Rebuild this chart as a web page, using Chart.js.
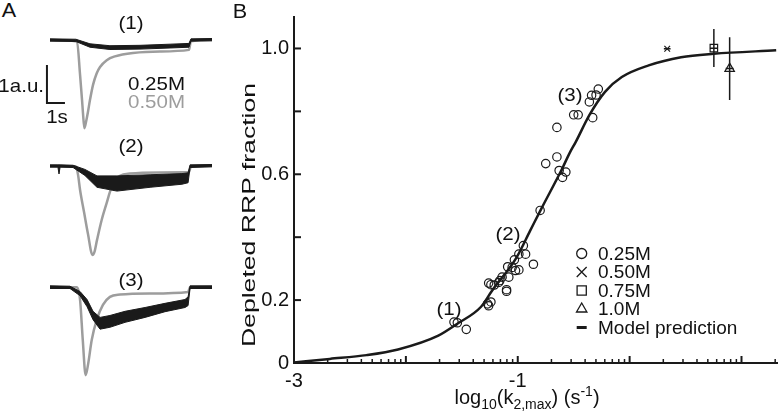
<!DOCTYPE html>
<html>
<head>
<meta charset="utf-8">
<script src="https://cdn.jsdelivr.net/npm/chart.js@4.4.0/dist/chart.umd.min.js"></script>
<style>
html, body { margin: 0; padding: 0; background: #fff; }
#fig { position: relative; width: 784px; height: 414px; overflow: hidden; font-family: 'Liberation Sans', Arial, sans-serif; color: #111; }
#fig canvas { position: absolute; }
.t { position: absolute; white-space: nowrap; line-height: 1; font-size: 19px; transform: translate(-50%, -50%) scaleX(1.08); }
.t.l { transform-origin: left center; transform: translate(0, -50%) scaleX(1.08); }
.t.r { transform-origin: right center; transform: translate(-100%, -50%) scaleX(1.08); }
sub, sup { font-size: 70%; line-height: 0; }
</style>
</head>
<body>
<div id="fig">
  <canvas id="trace1" width="180" height="115" style="left:40px;top:25px"></canvas>
  <canvas id="trace2" width="180" height="115" style="left:40px;top:150px"></canvas>
  <canvas id="trace3" width="180" height="115" style="left:40px;top:270px"></canvas>
  <canvas id="rrp" width="554" height="414" style="left:230px;top:0px"></canvas>

  <div class="t" style="left:9px;top:10px;font-size:20px">A</div>
  <div class="t" style="left:131px;top:22px">(1)</div>
  <div class="t" style="left:131px;top:145px">(2)</div>
  <div class="t" style="left:131px;top:279px">(3)</div>
  <div class="t r" style="left:44px;top:85px">1a.u.</div>
  <div class="t" style="left:57px;top:116px">1s</div>
  <div class="t l" style="left:128px;top:83px">0.25M</div>
  <div class="t l" style="left:128px;top:101px;color:#9d9d9d">0.50M</div>

  <div class="t" style="left:240px;top:11px;font-size:20px">B</div>
  <div class="t" style="left:248px;top:215px;transform:translate(-50%,-50%) rotate(-90deg) scaleX(1.4)">Depleted RRP fraction</div>
  <div class="t" style="left:527px;top:397px;font-size:20px;transform:translate(-50%,-50%)">log<sub>10</sub>(k<sub>2,max</sub>) (s<sup>-1</sup>)</div>
  <div class="t" style="left:449px;top:308px">(1)</div>
  <div class="t" style="left:508px;top:233px">(2)</div>
  <div class="t" style="left:570px;top:94px">(3)</div>
</div>

<script>
const GRAY = '#9d9d9d';
const INK = '#1a1a1a';
const FONT = "'Liberation Sans', Arial, sans-serif";

// Panel A: time in s, signal in a.u. (0 = baseline)
const gray1T = [0, 1.50, 1.67, 1.78, 1.83, 1.91, 2.00, 2.11, 2.22, 2.39, 2.59, 2.78, 3.15, 3.61, 4.61, 6.11, 7.72, 7.83, 9.00];
const gray1V = [0, -0.04, -0.92, -1.58, -1.91, -2.32, -2.16, -1.89, -1.58, -1.18, -0.88, -0.71, -0.53, -0.43, -0.34, -0.30, -0.26, -0.03, 0];
const black1T = [0, 1.44, 2.22, 3.33, 5.00, 6.67, 7.72, 7.83, 9.00];
const black1Hi = [0.03, 0.02, -0.10, -0.15, -0.14, -0.11, -0.09, 0.03, 0.04];
const black1Lo = [-0.03, -0.04, -0.19, -0.25, -0.24, -0.21, -0.19, -0.03, -0.02];

const gray2T = [0, 1.44, 1.56, 1.67, 1.89, 2.11, 2.36, 2.47, 2.61, 2.87, 3.15, 3.33, 3.56, 3.89, 4.44, 6.11, 7.72, 7.83, 9.00];
const gray2V = [0, -0.01, -0.24, -0.63, -1.21, -1.79, -2.34, -2.26, -1.95, -1.42, -0.97, -0.68, -0.42, -0.26, -0.20, -0.17, -0.16, -0.01, 0];
const black2T = [0, 0.44, 0.50, 0.56, 1.28, 1.94, 2.61, 3.72, 5.56, 7.33, 7.67, 7.78, 9.00];
const black2Hi = [0.03, 0.03, 0.03, 0.03, 0.02, -0.09, -0.26, -0.26, -0.23, -0.20, -0.18, 0.03, 0.04];
const black2Lo = [-0.03, -0.03, -0.21, -0.03, -0.04, -0.25, -0.56, -0.66, -0.56, -0.48, -0.44, -0.04, -0.02];

const gray3T = [0, 1.50, 1.67, 1.82, 1.98, 2.11, 2.32, 2.59, 2.94, 3.33, 3.89, 5.56, 7.67, 7.78, 9.00];
const gray3V = [0, -0.01, -0.34, -1.39, -2.32, -2.05, -1.39, -0.87, -0.47, -0.26, -0.20, -0.17, -0.13, -0.01, 0];
const black3T = [0, 1.11, 1.67, 2.06, 2.39, 2.78, 3.33, 4.17, 5.28, 6.39, 7.50, 7.67, 7.78, 9.00];
const black3Hi = [0.03, 0.02, -0.12, -0.33, -0.64, -0.80, -0.75, -0.64, -0.54, -0.43, -0.33, -0.26, 0.03, 0.03];
const black3Lo = [-0.04, -0.04, -0.23, -0.52, -0.86, -1.11, -1.06, -0.93, -0.80, -0.65, -0.54, -0.49, -0.04, -0.04];

// 1 s by 1 a.u. scale bar
const scaleBarT = [-0.17, -0.17, 0.83];
const scaleBarV = [-0.66, -1.66, -1.66];

// Panel B: x is log10(k2,max), y is depleted RRP fraction
const circleLogK = [-1.57, -1.54, -1.46, -1.27, -1.26, -1.24, -1.26, -1.24, -1.21, -1.17, -1.16, -1.14, -1.10, -1.10, -1.08, -1.09, -1.05, -1.02, -0.99, -1.03, -0.99, -0.93, -0.95, -0.86, -0.80, -0.75, -0.65, -0.63, -0.57, -0.60, -0.65, -0.50, -0.46, -0.33, -0.36, -0.34, -0.30, -0.28];
const circleFrac = [0.130, 0.128, 0.107, 0.188, 0.182, 0.194, 0.254, 0.249, 0.248, 0.256, 0.262, 0.273, 0.233, 0.228, 0.273, 0.306, 0.304, 0.294, 0.296, 0.328, 0.346, 0.346, 0.373, 0.314, 0.485, 0.634, 0.655, 0.612, 0.607, 0.590, 0.749, 0.789, 0.789, 0.780, 0.830, 0.851, 0.852, 0.871];

const crossLogK = [0.336];
const crossFrac = [0.999];
const squareLogK = [0.753];
const squareFrac = [1.001];
const squareLow = [0.941];
const squareHigh = [1.062];
const triangleLogK = [0.894];
const triangleFrac = [0.936];
const triangleLow = [0.836];
const triangleHigh = [1.036];

const modelLogK = [-3.0, -2.68, -2.35, -2.07, -1.71, -1.54, -1.33, -1.23, -1.01, -0.89, -0.79, -0.60, -0.54, -0.48, -0.36, -0.22, -0.07, 0.17, 0.46, 0.75, 1.31];
const modelFrac = [0.002, 0.013, 0.025, 0.043, 0.087, 0.125, 0.178, 0.230, 0.336, 0.420, 0.490, 0.620, 0.665, 0.704, 0.788, 0.862, 0.909, 0.946, 0.972, 0.983, 0.994];

const xTickValues = [-3, -1, 1];
const xTickLabels = ['-3', '-1', '1'];
const yTickValues = [0, 0.2, 0.6, 1.0];
const yTickLabels = ['0', '0.2', '0.6', '1.0'];
const yInwardTicks = [0.2, 0.4, 0.6, 0.8, 1.0];

const legendLabels = ['0.25M', '0.50M', '0.75M', '1.0M', 'Model prediction'];
const legendStyles = ['circle', 'cross', 'rect', 'triangle', 'dash'];

Chart.defaults.font.family = FONT;
Chart.defaults.color = '#111';

const pts = (xs, ys) => xs.map((x, i) => ({ x, y: ys[i] }));

document.addEventListener('DOMContentLoaded', () => {
    initTrace('trace1', [-2.632, 0.395], black1T, black1Hi, black1Lo, gray1T, gray1V, true);
    initTrace('trace2', [-2.605, 0.421], black2T, black2Hi, black2Lo, gray2T, gray2V, false);
    initTrace('trace3', [-2.579, 0.447], black3T, black3Hi, black3Lo, gray3T, gray3V, false);
    initRrpChart();
});

function initTrace(id, yRange, bT, bHi, bLo, gT, gV, withBar) {
    const datasets = [
        { data: pts(bT, bHi), borderColor: INK, borderWidth: 1, fill: false },
        { data: pts(bT, bLo), borderColor: INK, borderWidth: 1, fill: '-1', backgroundColor: INK },
        { data: pts(gT, gV), borderColor: GRAY, borderWidth: 2.5, cubicInterpolationMode: 'monotone' },
    ];
    if (withBar) {
        datasets.push({ data: pts(scaleBarT, scaleBarV), borderColor: INK, borderWidth: 2 });
    }
    datasets.forEach((d) => { d.pointRadius = 0; d.clip = false; });

    new Chart(document.getElementById(id), {
        type: 'line',
        data: { datasets },
        options: {
            responsive: false,
            animation: false,
            devicePixelRatio: 1,
            layout: { padding: 0 },
            plugins: {
                legend: { display: false },
                tooltip: { enabled: false },
                filler: { drawTime: 'beforeDatasetDraw' },
            },
            scales: {
                x: { type: 'linear', display: false, min: -0.556, max: 9.444 },
                y: { type: 'linear', display: false, min: yRange[0], max: yRange[1] },
            },
        },
    });
}

function drawMarker(ctx, style, x, y, r) {
    ctx.beginPath();
    if (style === 'circle') {
        ctx.arc(x, y, r, 0, Math.PI * 2);
    } else if (style === 'cross') {
        const d = r * Math.SQRT1_2;
        ctx.moveTo(x - d, y - d); ctx.lineTo(x + d, y + d);
        ctx.moveTo(x - d, y + d); ctx.lineTo(x + d, y - d);
    } else if (style === 'rect') {
        const d = r * Math.SQRT1_2;
        ctx.rect(x - d, y - d, 2 * d, 2 * d);
    } else if (style === 'triangle') {
        ctx.moveTo(x, y - r);
        ctx.lineTo(x + r * 0.866, y + r * 0.5);
        ctx.lineTo(x - r * 0.866, y + r * 0.5);
        ctx.closePath();
    } else if (style === 'dash') {
        ctx.moveTo(x - r, y); ctx.lineTo(x + r, y);
    }
    ctx.stroke();
}

const errorBars = {
    id: 'errorBars',
    afterDatasetsDraw(chart) {
        const { ctx, scales: { x, y } } = chart;
        const sets = [
            { lx: squareLogK, ly: squareFrac, lo: squareLow, hi: squareHigh, half: 0.035 },
            { lx: triangleLogK, ly: triangleFrac, lo: triangleLow, hi: triangleHigh, half: 0.035 },
            { lx: crossLogK, ly: crossFrac, lo: crossFrac, hi: crossFrac, half: 0.03 },
        ];
        ctx.save();
        ctx.strokeStyle = INK;
        ctx.lineWidth = 1.5;
        sets.forEach((s) => {
            s.lx.forEach((v, i) => {
                const px = x.getPixelForValue(v);
                const py = y.getPixelForValue(s.ly[i]);
                ctx.beginPath();
                ctx.moveTo(px, y.getPixelForValue(s.lo[i]));
                ctx.lineTo(px, y.getPixelForValue(s.hi[i]));
                ctx.moveTo(x.getPixelForValue(v - s.half), py);
                ctx.lineTo(x.getPixelForValue(v + s.half), py);
                ctx.stroke();
            });
        });
        ctx.restore();
    },
};

const inwardTicks = {
    id: 'inwardTicks',
    afterDraw(chart) {
        const { ctx, chartArea, scales: { x, y } } = chart;
        ctx.save();
        ctx.strokeStyle = INK;
        // log-style ticks on the x axis: decades long, 2..9 short
        for (let dec = -3; dec <= 1; dec++) {
            for (let m = 1; m <= 9; m++) {
                const v = dec + Math.log10(m);
                if (v > x.max) break;
                const px = x.getPixelForValue(v);
                const len = m === 1 ? 7 : 4;
                ctx.lineWidth = m === 1 ? 2 : 1.5;
                ctx.beginPath();
                ctx.moveTo(px, chartArea.bottom);
                ctx.lineTo(px, chartArea.bottom - len);
                ctx.stroke();
            }
        }
        ctx.lineWidth = 2;
        yInwardTicks.forEach((v) => {
            const py = y.getPixelForValue(v);
            ctx.beginPath();
            ctx.moveTo(chartArea.left, py);
            ctx.lineTo(chartArea.left + 7, py);
            ctx.stroke();
        });

        // legend
        const lx = 581.7 - 230;
        const rowY = [253.5, 272, 290.5, 309, 327.5];
        ctx.font = '19px ' + FONT;
        ctx.fillStyle = '#111';
        ctx.textBaseline = 'middle';
        legendLabels.forEach((label, i) => {
            const style = legendStyles[i];
            ctx.lineWidth = style === 'dash' ? 3 : 1.3;
            const r = { circle: 5, cross: 7, rect: 6.5, triangle: 6, dash: 5 }[style];
            drawMarker(ctx, style, lx, rowY[i], r);
            ctx.fillText(label, 598 - 230, rowY[i] + 1);
        });
        ctx.restore();
    },
};

function initRrpChart() {
    const marker = { backgroundColor: 'transparent', borderColor: INK, borderWidth: 1.2, showLine: false };
    new Chart(document.getElementById('rrp'), {
        type: 'scatter',
        data: {
            datasets: [
                {
                    label: 'Model prediction',
                    data: pts(modelLogK, modelFrac),
                    showLine: true,
                    borderColor: INK,
                    borderWidth: 2.5,
                    pointRadius: 0,
                    cubicInterpolationMode: 'monotone',
                    clip: false,
                },
                { label: '0.25M', data: pts(circleLogK, circleFrac), pointStyle: 'circle', pointRadius: 4.2, ...marker },
                { label: '0.50M', data: pts(crossLogK, crossFrac), pointStyle: 'crossRot', pointRadius: 4, ...marker },
                { label: '0.75M', data: pts(squareLogK, squareFrac), pointStyle: 'rect', pointRadius: 5.3, ...marker },
                { label: '1.0M', data: pts(triangleLogK, triangleFrac), pointStyle: 'triangle', pointRadius: 5.5, ...marker },
            ],
        },
        options: {
            responsive: false,
            animation: false,
            devicePixelRatio: 1,
            layout: { padding: { top: 15, right: 0, bottom: 0, left: 0 } },
            plugins: {
                legend: { display: false },
                tooltip: { enabled: false },
            },
            scales: {
                x: {
                    type: 'linear',
                    min: -3,
                    max: 1.32,
                    grid: { display: false, drawTicks: false },
                    border: { display: true, color: INK, width: 2 },
                    ticks: {
                        stepSize: 1,
                        autoSkip: false,
                        maxRotation: 0,
                        padding: 6,
                        color: '#111',
                        font: { size: 20 },
                        callback: (value) => {
                            const i = xTickValues.indexOf(Math.round(value * 100) / 100);
                            return i >= 0 ? xTickLabels[i] : '';
                        },
                    },
                    afterFit: (scale) => { scale.height = 51; },
                },
                y: {
                    type: 'linear',
                    min: 0,
                    max: 1.1,
                    grid: { display: false, drawTicks: false },
                    border: { display: true, color: INK, width: 2 },
                    ticks: {
                        stepSize: 0.2,
                        autoSkip: false,
                        padding: 5,
                        color: '#111',
                        font: { size: 20 },
                        callback: (value) => {
                            const i = yTickValues.indexOf(Math.round(value * 10) / 10);
                            return i >= 0 ? yTickLabels[i] : '';
                        },
                    },
                    afterFit: (scale) => { scale.width = 64; },
                },
            },
        },
        plugins: [errorBars, inwardTicks],
    });
}
</script>
</body>
</html>
